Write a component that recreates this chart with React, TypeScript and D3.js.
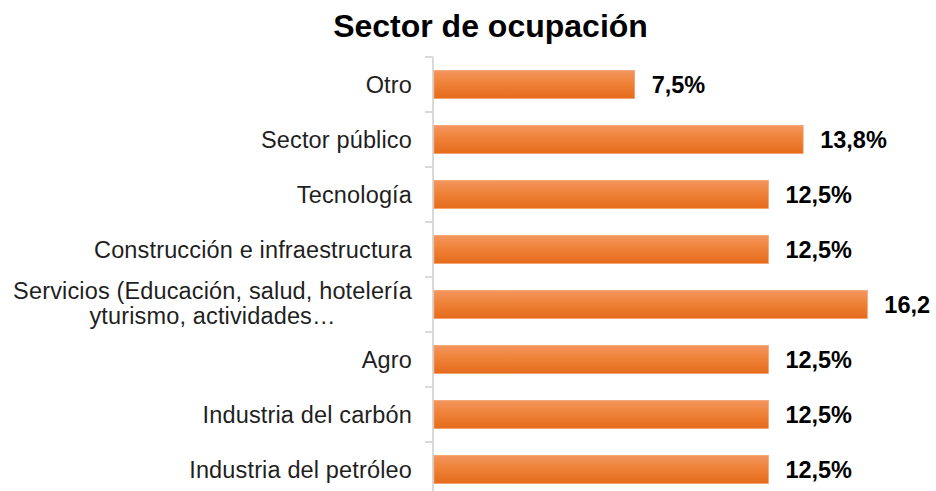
import React from "react";
import * as d3 from "d3";

const categories = [
  "Otro",
  "Sector público",
  "Tecnología",
  "Construcción e infraestructura",
  "Servicios (Educación, salud, hotelería\nyturismo, actividades…",
  "Agro",
  "Industria del carbón",
  "Industria del petróleo",
];
const values = [7.5, 13.8, 12.5, 12.5, 16.2, 12.5, 12.5, 12.5];
const valueLabels = ["7,5%", "13,8%", "12,5%", "12,5%", "16,2", "12,5%", "12,5%", "12,5%"];
const title = "Sector de ocupación";

const W = 936;
const H = 491;
const FONT = "'Liberation Sans', Arial, sans-serif";
const LS = 0.15;

function measure(text: string, font: string): number {
  if (typeof document === "undefined") return text.length * 11;
  const c = document.createElement("canvas");
  const ctx = c.getContext("2d");
  if (!ctx) return text.length * 11;
  ctx.font = font;
  return ctx.measureText(text).width + text.length * LS;
}

export default function App() {
  const x0 = 434;
  const x = d3.scaleLinear().domain([0, 1]).range([x0, x0 + 26.75]);
  const y = d3
    .scaleBand<string>()
    .domain(categories)
    .range([57, 57 + 55 * categories.length])
    .paddingInner(0.49)
    .paddingOuter(0.245);
  const labelX = 412;
  const labelFs = 23.5;

  return (
    <svg width={W} height={H} style={{ position: "absolute", left: 0, top: 0 }}>
      <defs>
        <linearGradient id="barGrad" x1="0" y1="0" x2="0" y2="1">
          <stop offset="0" stopColor="#f39660" />
          <stop offset="0.45" stopColor="#ef8238" />
          <stop offset="1" stopColor="#e46b1c" />
        </linearGradient>
      </defs>
      <rect width={W} height={H} fill="#ffffff" />
      <text
        x={490.5}
        y={36.5}
        textAnchor="middle"
        fontFamily={FONT}
        fontWeight="bold"
        fontSize={32}
        fill="#000"
      >
        {title}
      </text>
      {/* axis */}
      <line x1={433} x2={433} y1={57} y2={H} stroke="#d9d9d9" strokeWidth={2} />
      {d3.range(categories.length + 1).map((i) => {
        const yy = 57 + 55 * i;
        return <line key={i} x1={425} x2={433} y1={yy} y2={yy} stroke="#d9d9d9" strokeWidth={2} />;
      })}
      {categories.map((c, i) => {
        const by = y(c)!;
        const bh = y.bandwidth();
        const cy = by + bh / 2;
        const lines = c.split("\n");
        const font = `${labelFs}px ${FONT}`;
        return (
          <g key={c}>
            <rect
              x={x(0)}
              y={by}
              width={x(values[i]) - x(0)}
              height={bh}
              fill="url(#barGrad)"
              stroke="#f4a06c"
              strokeWidth={0.8}
            />
            <text
              x={x(values[i]) + 17}
              y={cy + 8.5}
              fontFamily={FONT}
              fontWeight="bold"
              fontSize={23.5}
              fill="#000"
            >
              {valueLabels[i]}
            </text>
            {lines.length === 1 ? (
              <text
                x={labelX}
                y={cy + 8}
                textAnchor="end"
                fontFamily={FONT}
                fontSize={labelFs}
                letterSpacing={LS}
                fill="#1f1f1f"
              >
                {c}
              </text>
            ) : (
              (() => {
                const w1 = measure(lines[0], font);
                const mid = labelX - w1 / 2;
                return lines.map((ln, k) => (
                  <text
                    key={k}
                    x={mid}
                    y={cy - 6 + k * 25}
                    textAnchor="middle"
                    fontFamily={FONT}
                    fontSize={labelFs}
                    letterSpacing={LS}
                    fill="#1f1f1f"
                  >
                    {ln}
                  </text>
                ));
              })()
            )}
          </g>
        );
      })}
    </svg>
  );
}
